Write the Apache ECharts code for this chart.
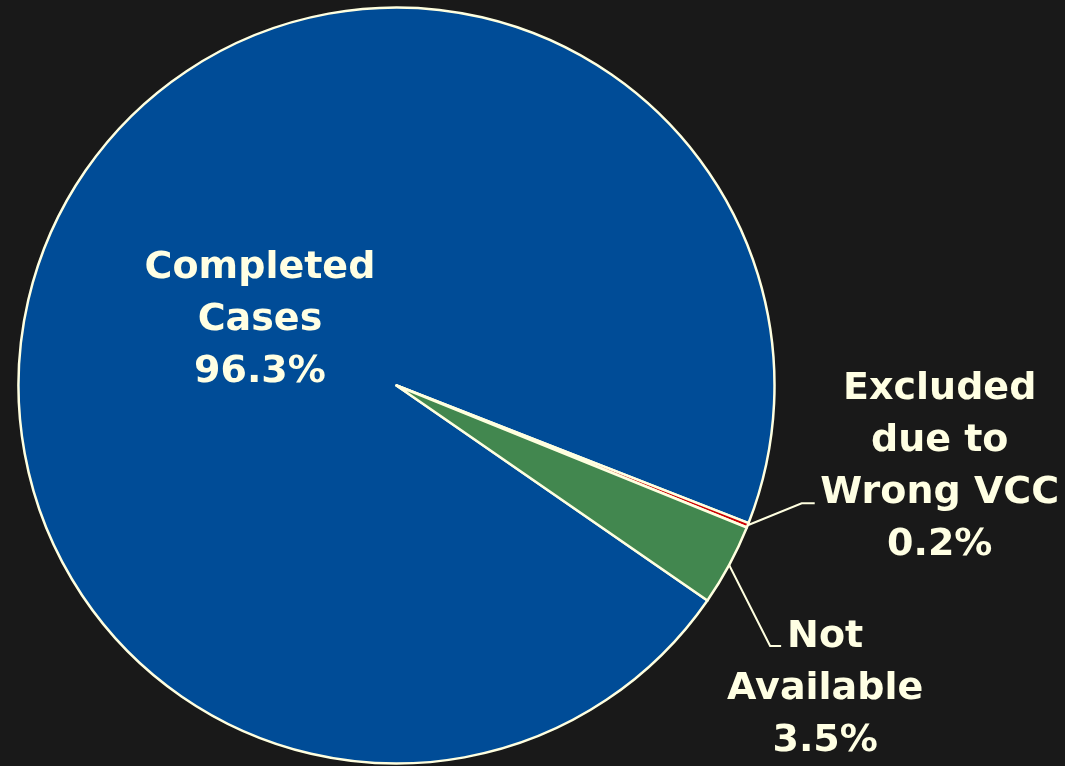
<!DOCTYPE html>
<html>
<head>
<meta charset="utf-8">
<title>Case status</title>
<script src="https://cdn.jsdelivr.net/npm/echarts@6/dist/echarts.min.js"></script>
<style>
  html, body { margin: 0; padding: 0; background: #191919; }
  #chart { width: 1065px; height: 766px; }
</style>
</head>
<body>
<div id="chart"></div>
<script>
// Case status shares (percent)
const categories = ['Completed\nCases', 'Excluded\ndue to\nWrong VCC', 'Not\nAvailable'];
const shares = [96.3, 0.2, 3.5];
const colors = ['#004C97', '#CC0000', '#42874F'];

const TEXT = '#FFFFE3';

// Leader-line and label placement for the outside labels:
// bend = offset of the elbow from the slice edge, tail = horizontal run,
// text = offset of label (center-x, top) from the tail end.
const outsideLayout = {
  1: { bend: [54, -22], tail: 13, text: [125, -140] },
  2: { bend: [41, 81], tail: 11, text: [44, -35] }
};
// Nudge for the inside label
const insideShift = [33, 25];

const chart = echarts.init(document.getElementById('chart'), null, { renderer: 'canvas' });

const data = categories.map((name, i) => ({
  name: name,
  value: shares[i],
  itemStyle: { color: colors[i] },
  label: i === 0
    ? { position: 'inside', show: true }
    : { position: 'outside', show: true },
  labelLine: { show: i !== 0 }
}));

chart.setOption({
  backgroundColor: '#191919',
  animation: false,
  series: [{
    type: 'pie',
    center: [396.5, 385.5],
    radius: 378,
    startAngle: -34.66,
    clockwise: true,
    avoidLabelOverlap: false,
    data: data,
    itemStyle: { borderColor: '#FFFFE0', borderWidth: 2.5 },
    emphasis: { disabled: true },
    label: {
      formatter: p => p.name + '\n' + p.value.toFixed(1) + '%',
      color: TEXT,
      fontFamily: 'DejaVu Sans',
      fontWeight: 'bold',
      fontSize: 38,
      lineHeight: 52,
      align: 'center'
    },
    labelLine: {
      length: 20,
      length2: 10,
      lineStyle: { color: '#FFFFE0', width: 2 }
    },
    labelLayout: function (params) {
      const cfg = outsideLayout[params.dataIndex];
      if (!cfg) {
        return { dx: insideShift[0], dy: insideShift[1], align: 'center' };
      }
      const p0 = params.labelLinePoints[0];
      const p1 = [p0[0] + cfg.bend[0], p0[1] + cfg.bend[1]];
      const p2 = [p1[0] + cfg.tail, p1[1]];
      return {
        x: p2[0] + cfg.text[0],
        y: p2[1] + cfg.text[1],
        align: 'center',
        verticalAlign: 'top',
        labelLinePoints: [p0, p1, p2]
      };
    }
  }]
});
</script>
</body>
</html>
